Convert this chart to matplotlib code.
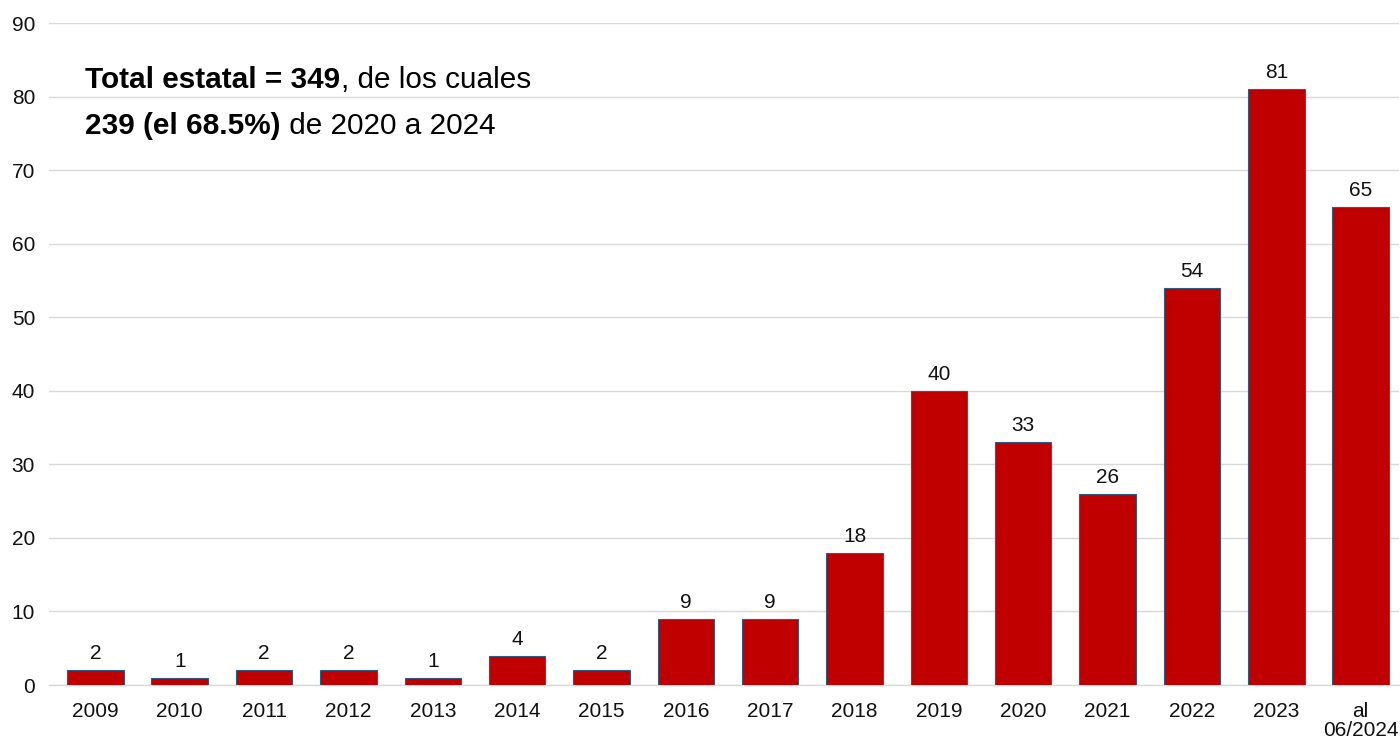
import matplotlib.pyplot as plt
import numpy as np

plt.rcParams['font.family'] = ['Liberation Sans', 'DejaVu Sans']

# data
years = ["2009", "2010", "2011", "2012", "2013", "2014", "2015", "2016",
         "2017", "2018", "2019", "2020", "2021", "2022", "2023", "al\n06/2024"]
counts = [2, 1, 2, 2, 1, 4, 2, 9, 9, 18, 40, 33, 26, 54, 81, 65]

bar_color = "#C00000"
edge_color = "#2E5C80"
grid_color = "#D9D9D9"

fig = plt.figure(figsize=(14, 7.43), dpi=100)
ax = fig.add_axes([0.035, 0.078, 0.964, 0.891])

x = np.arange(len(years))
bars = ax.bar(x, counts, width=0.67, color=bar_color, edgecolor=edge_color,
              linewidth=0.8, zorder=3)

# value labels above each bar
for xi, v in zip(x, counts):
    ax.annotate(str(v), xy=(xi, v), xytext=(0, 5), textcoords="offset points",
                ha="center", va="bottom", fontsize=15, color="#111111")

ax.set_xlim(-0.55, 15.45)
ax.set_ylim(0, 90)
ax.set_yticks(range(0, 91, 10))
ax.set_xticks(x)
ax.set_xticklabels(years, fontsize=15, color="#111111", linespacing=1.0,
                   va="top")
ax.tick_params(axis="y", labelsize=15, colors="#111111", length=0, pad=10)
ax.tick_params(axis="x", length=0, pad=12)

ax.grid(axis="y", color=grid_color, linewidth=1, zorder=0)
for s in ["top", "right", "left"]:
    ax.spines[s].set_visible(False)
ax.spines["bottom"].set_color(grid_color)
ax.spines["bottom"].set_linewidth(1)

# annotation with bold and normal parts
t1 = ax.text(0.027, 0.893, "Total estatal = 349", transform=ax.transAxes,
             fontsize=21.4, fontweight="bold", va="bottom", ha="left")
ax.annotate(", de los cuales", xy=(1, 0), xycoords=t1, fontsize=21.4,
            va="bottom", ha="left")
t2 = ax.text(0.027, 0.823, "239 (el 68.5%)", transform=ax.transAxes,
             fontsize=21.4, fontweight="bold", va="bottom", ha="left")
ax.annotate(" de 2020 a 2024", xy=(1, 0), xycoords=t2, fontsize=21.4,
            va="bottom", ha="left")

fig.savefig("out.png", dpi=100)
